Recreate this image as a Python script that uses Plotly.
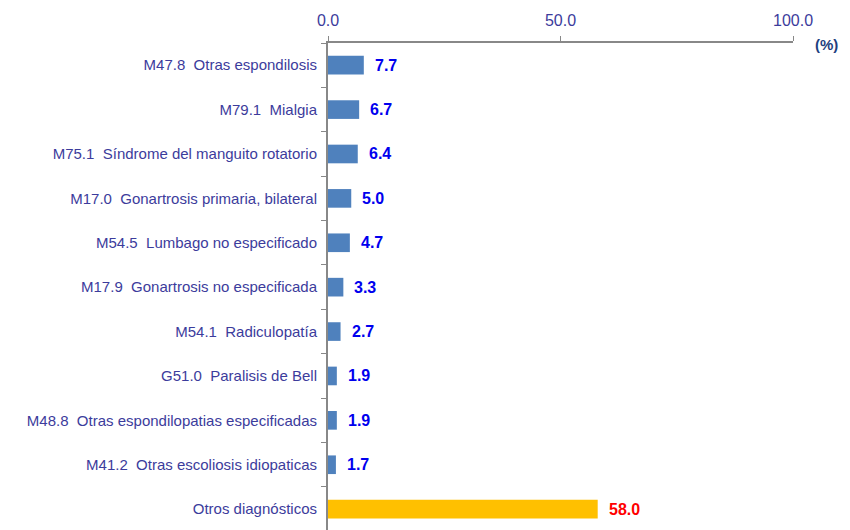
import plotly.graph_objects as go

categories = [
    "M47.8  Otras espondilosis",
    "M79.1  Mialgia",
    "M75.1  Síndrome del manguito rotatorio",
    "M17.0  Gonartrosis primaria, bilateral",
    "M54.5  Lumbago no especificado",
    "M17.9  Gonartrosis no especificada",
    "M54.1  Radiculopatía",
    "G51.0  Paralisis de Bell",
    "M48.8  Otras espondilopatias especificadas",
    "M41.2  Otras escoliosis idiopaticas",
    "Otros diagnósticos",
]
values = [7.7, 6.7, 6.4, 5.0, 4.7, 3.3, 2.7, 1.9, 1.9, 1.7, 58.0]
tick_vals = [0, 50, 100]

bar_colors = ["#4F81BD"] * 10 + ["#FFC000"]
text_colors = ["#0000EE"] * 10 + ["#FF0000"]

FONT = "Liberation Sans, Arial, sans-serif"
LABEL_COLOR = "#3C3C9C"

fig = go.Figure(go.Bar(
    x=values, y=categories, orientation="h",
    marker=dict(color=bar_colors, line=dict(width=0)),
    width=0.42,
    hoverinfo="skip",
))

for c, v, tc in zip(categories, values, text_colors):
    fig.add_annotation(
        x=v, y=c, text=f"<b>{v:.1f}</b>", showarrow=False,
        xanchor="left", xshift=9, yanchor="middle",
        font=dict(family=FONT, size=16, color=tc),
    )

fig.add_annotation(
    xref="paper", yref="paper", x=1.072, y=1.0, yshift=-1,
    text="<b>(%)</b>", showarrow=False, xanchor="center", yanchor="middle",
    font=dict(family=FONT, size=15, color="#1F3F7F"),
)

fig.update_layout(
    width=842, height=522,
    margin=dict(l=320, r=57, t=35, b=0, autoexpand=False),
    paper_bgcolor="white", plot_bgcolor="white",
    showlegend=False,
    font=dict(family=FONT, size=15, color=LABEL_COLOR),
)
fig.update_xaxes(
    side="top", range=[0, 100], tickvals=tick_vals, tickformat=".1f",
    showline=True, linecolor="#888888", linewidth=2,
    ticks="outside", ticklen=5, tickcolor="#888888", tickwidth=1,
    ticklabelstandoff=4,
    showgrid=False, zeroline=False, automargin=False,
    tickfont=dict(family=FONT, size=16, color=LABEL_COLOR),
)
fig.update_yaxes(
    range=[10.47, -0.5], categoryorder="array", categoryarray=categories,
    showline=True, linecolor="#888888", linewidth=2,
    ticks="outside", ticklen=5, tickcolor="#888888", tickson="boundaries",
    ticklabelstandoff=6, automargin=False,
    showgrid=False,
    tickfont=dict(family=FONT, size=15, color=LABEL_COLOR),
)

fig.write_html("out.html")
